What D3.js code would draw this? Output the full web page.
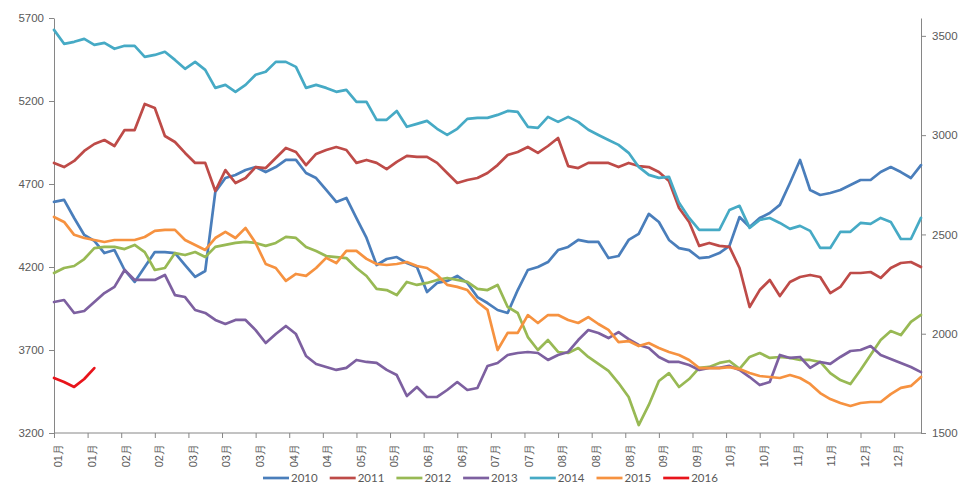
<!DOCTYPE html>
<html><head><meta charset="utf-8">
<script src="https://cdn.jsdelivr.net/npm/d3@7"></script>
<style>
html,body{margin:0;padding:0;background:#fff;}
svg{display:block;font-family:Lato,"Noto Sans CJK SC",sans-serif;}
</style></head><body>
<svg id="chart" width="963" height="491"></svg>
<script>
// ---- data ----
const years = ["2010","2011","2012","2013","2014","2015","2016"];
const dayStep = 3;           // trading days between samples
const dayMax = 258;          // last trading-day index on the axis
const tickDays = d3.range(0, 251, 10);
const tickLabels = ["01月","01月","02月","02月","03月","03月","03月","04月","04月","05月","05月","06月","06月",
                    "07月","07月","08月","08月","08月","09月","09月","10月","10月","11月","11月","12月","12月"];
const leftTicks = [3200,3700,4200,4700,5200,5700];
const rightTicks = [1500,2000,2500,3000,3500];

// left axis series
const s2010 = [4592,4604,4495,4393,4357,4284,4302,4182,4110,4200,
  4290,4290,4284,4212,4140,4176,4652,4736,4754,4784,
  4802,4772,4802,4845,4845,4766,4736,4664,4592,4616,
  4495,4375,4212,4248,4260,4224,4200,4049,4104,4116,
  4146,4104,4019,3983,3941,3923,4061,4182,4200,4230,
  4302,4321,4363,4351,4351,4254,4266,4363,4400,4520,
  4471,4363,4314,4302,4254,4260,4284,4327,4501,4441,
  4495,4525,4574,4706,4845,4664,4634,4646,4664,4694,
  4724,4724,4772,4802,4772,4736,4814];
const s2011 = [4827,4802,4839,4899,4941,4965,4929,5025,5025,5182,
  5158,4989,4953,4887,4827,4827,4658,4784,4706,4736,
  4802,4796,4857,4917,4893,4814,4881,4905,4923,4905,
  4827,4845,4827,4790,4833,4869,4863,4863,4827,4766,
  4706,4724,4736,4766,4814,4875,4893,4923,4887,4929,
  4977,4808,4796,4827,4827,4827,4802,4827,4808,4802,
  4772,4718,4555,4471,4327,4345,4327,4321,4194,3959,
  4061,4122,4025,4110,4140,4152,4140,4043,4080,4164,
  4164,4170,4134,4194,4224,4230,4200];
const s2012 = [4164,4194,4206,4248,4314,4321,4321,4308,4333,4290,
  4182,4194,4284,4272,4290,4260,4321,4333,4345,4351,
  4345,4327,4345,4381,4375,4321,4296,4266,4260,4254,
  4194,4146,4068,4061,4031,4110,4092,4104,4122,4134,
  4122,4110,4068,4061,4092,3959,3923,3778,3700,3760,
  3688,3682,3712,3658,3616,3574,3501,3417,3248,3369,
  3513,3561,3477,3525,3592,3598,3622,3634,3586,3658,
  3682,3652,3658,3652,3640,3640,3628,3561,3519,3495,
  3580,3670,3760,3814,3790,3869,3911];
const s2013 = [3989,4001,3923,3935,3989,4043,4080,4182,4122,4122,
  4122,4152,4031,4019,3941,3923,3881,3857,3881,3881,
  3820,3742,3796,3845,3796,3664,3616,3598,3580,3592,
  3640,3628,3622,3580,3549,3423,3477,3417,3417,3459,
  3507,3459,3471,3604,3622,3670,3682,3688,3682,3640,
  3670,3688,3760,3820,3802,3772,3808,3766,3730,3712,
  3658,3628,3628,3610,3580,3592,3592,3604,3580,3537,
  3489,3507,3670,3652,3658,3592,3628,3616,3658,3694,
  3700,3724,3670,3646,3622,3598,3567];
// right axis series
const s2014 = [3530,3460,3470,3485,3455,3465,3435,3450,3450,3394,
  3404,3420,3379,3334,3369,3329,3238,3253,3218,3253,
  3304,3319,3369,3369,3344,3238,3253,3238,3218,3228,
  3168,3168,3077,3077,3122,3042,3057,3072,3032,3001,
  3032,3082,3087,3087,3102,3122,3117,3042,3037,3092,
  3067,3092,3067,3027,3001,2976,2951,2911,2840,2800,
  2785,2790,2659,2583,2523,2523,2523,2623,2644,2533,
  2573,2583,2558,2528,2543,2518,2432,2432,2513,2513,
  2558,2553,2583,2563,2477,2477,2583];
const s2015 = [2588,2563,2498,2482,2472,2462,2472,2472,2472,2487,
  2518,2523,2523,2472,2447,2422,2482,2513,2482,2533,
  2457,2351,2331,2266,2301,2291,2331,2382,2356,2417,
  2417,2377,2351,2346,2351,2361,2341,2331,2296,2246,
  2236,2220,2160,2120,1918,2004,2004,2094,2054,2094,
  2094,2069,2054,2084,2049,2019,1958,1963,1938,1953,
  1928,1908,1893,1868,1827,1827,1827,1832,1822,1802,
  1787,1782,1777,1792,1777,1747,1701,1671,1651,1636,
  1651,1656,1656,1696,1727,1737,1782];
const s2016 = [1777,1757,1732,1772,1827];

const colors = ["#4A7EBB","#BE4B48","#98B954","#7D60A0","#46AAC5","#F69240","#E8141B"];
const seriesValues = [s2010,s2011,s2012,s2013,s2014,s2015,s2016];
const seriesAxis = ["L","L","L","L","R","R","R"];

// ---- layout ----
const svg = d3.select("#chart");
const x = d3.scaleLinear().domain([0, dayMax]).range([54, 921]);
const yL = d3.scaleLinear().domain([3200, 5700]).range([433, 18]);
const yR = d3.scaleLinear().domain([1500, 3590]).range([433, 18]);
const axisColor = "#868686", textColor = "#595959";
const fmt = d3.format("d");

function styleAxis(g){
  g.selectAll(".domain").attr("stroke", axisColor);
  g.selectAll(".tick line").attr("stroke", axisColor);
  g.selectAll(".tick text").attr("fill", textColor).style("font-size","11.5px");
}

svg.append("g").attr("transform","translate(54,0)")
  .call(d3.axisLeft(yL).tickValues(leftTicks).tickFormat(fmt).tickSize(5).tickSizeOuter(0).tickPadding(5))
  .call(styleAxis);

svg.append("g").attr("transform","translate(921,0)")
  .call(d3.axisRight(yR).tickValues(rightTicks).tickFormat(fmt).tickSize(5).tickSizeOuter(0).tickPadding(6))
  .call(styleAxis);

const xg = svg.append("g").attr("transform","translate(0,433)")
  .call(d3.axisBottom(x).tickValues(tickDays).tickSize(5).tickSizeOuter(0)
        .tickFormat((d,i)=>tickLabels[i]))
  .call(styleAxis);
xg.select(".domain").attr("d","M54,0H921");
xg.selectAll(".tick text")
  .attr("transform","rotate(-90)")
  .attr("text-anchor","end")
  .attr("x",-11).attr("y",4).attr("dy","0.35em")
  .style("font-size","11px");

// ---- lines ----
seriesValues.forEach((vals, si) => {
  const ys = seriesAxis[si] === "L" ? yL : yR;
  const line = d3.line().x((d,i)=>x(i*dayStep)).y(d=>ys(d));
  svg.append("path").datum(vals)
    .attr("fill","none").attr("stroke",colors[si])
    .attr("stroke-width",2.7).attr("stroke-linejoin","round").attr("stroke-linecap","round")
    .attr("d",line);
});

// ---- legend ----
const lg = svg.append("g");
years.forEach((yr,i)=>{
  const x0 = 263 + i*66.7;
  lg.append("line").attr("x1",x0).attr("x2",x0+26).attr("y1",478).attr("y2",478)
    .attr("stroke",colors[i]).attr("stroke-width",2.7);
  lg.append("text").attr("x",x0+28).attr("y",478).attr("dy","0.35em")
    .attr("fill",textColor).style("font-size","11.5px").text(yr);
});
</script>
</body></html>
